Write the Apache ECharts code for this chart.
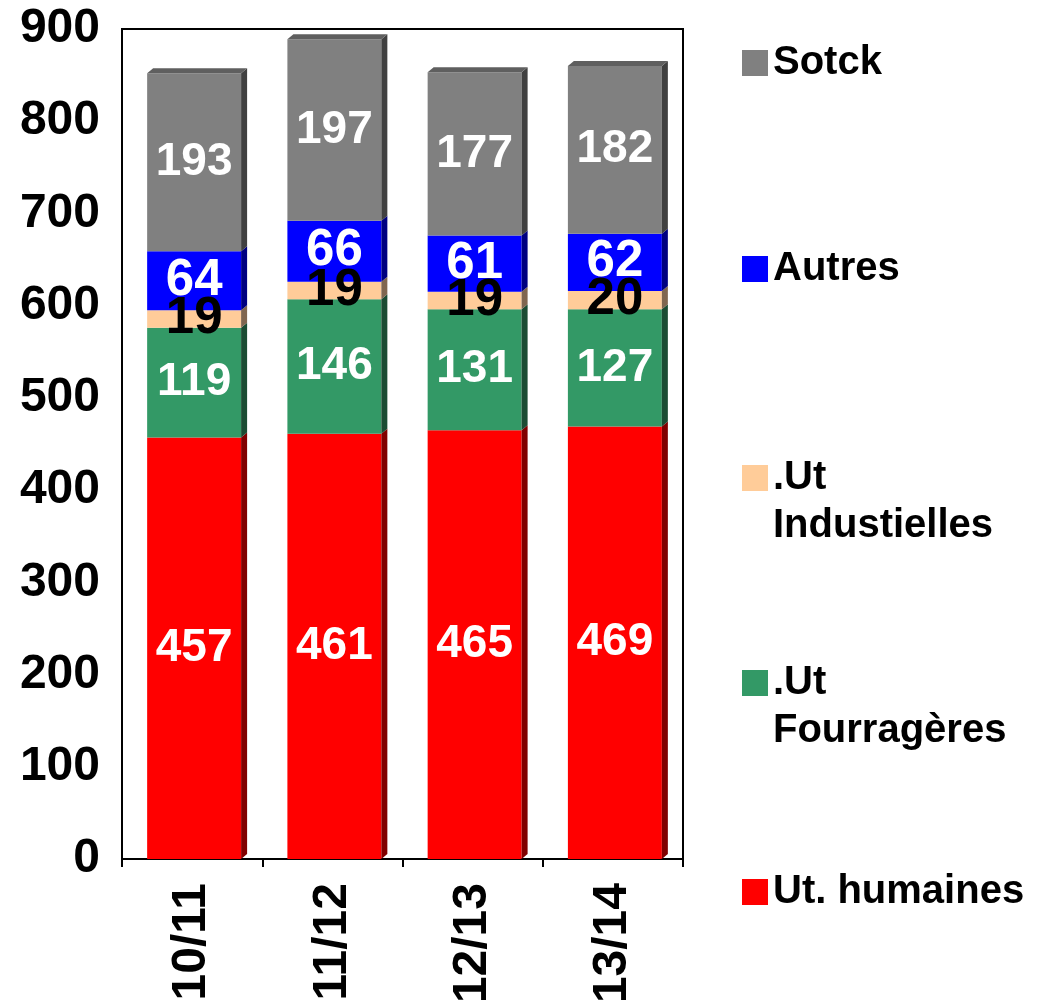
<!DOCTYPE html>
<html>
<head>
<meta charset="utf-8">
<script src="https://cdn.jsdelivr.net/npm/echarts@6/dist/echarts.min.js"></script>
<style>
  html, body { margin: 0; padding: 0; background: #fff; }
  #chart { width: 1041px; height: 1008px; }
</style>
</head>
<body>
<div id="chart"></div>
<script>
// categories (campagnes)
const categories = ["10/11", "11/12", "12/13", "13/14"];
// valeurs par couche, du bas vers le haut
const humaines = [457, 461, 465, 469];
const fourrageres = [119, 146, 131, 127];
const industielles = [19, 19, 19, 20];
const autres = [64, 66, 61, 62];
const sotck = [193, 197, 177, 182];
const yTicks = [0, 100, 200, 300, 400, 500, 600, 700, 800, 900];

const layerNames = ["Ut. humaines", ".Ut\nFourragères", ".Ut\nIndustielles", "Autres", "Sotck"];
const layerValues = [humaines, fourrageres, industielles, autres, sotck];
// face avant / face cote / face dessus
const frontColors = ["#ff0000", "#339966", "#ffcc99", "#0000ff", "#808080"];
const sideColors = ["#800000", "#1b4c33", "#806650", "#000080", "#404040"];
const topColor = "#5f5f5f";
const labelColors = ["#fff", "#fff", "#000", "#fff", "#fff"];
const labelSizes = [46, 46, 51, 51, 46];

const FONT = '"Liberation Sans", Arial, sans-serif';

// construire les donnees empilees : [categorie, base, sommet, valeur]
const cumul = categories.map(() => 0);
const layerData = layerValues.map((vals) => {
  return vals.map((v, j) => {
    const base = cumul[j];
    cumul[j] = base + v;
    return [j, base, base + v, v];
  });
});

function makeRender(k) {
  const isTop = k === layerValues.length - 1;
  return function (params, api) {
    const cat = api.value(0);
    const pb = api.coord([cat, api.value(1)]);
    const pt = api.coord([cat, api.value(2)]);
    const bw = api.size([1, 0])[0] * 0.67;
    const x0 = pb[0] - bw / 2 + 2;
    const x1 = x0 + bw;
    const dx = 6, dy = 5;
    const children = [
      {
        type: "rect",
        shape: { x: x0, y: pt[1], width: bw, height: pb[1] - pt[1] },
        style: { fill: frontColors[k] },
      },
      {
        type: "polygon",
        shape: { points: [[x1, pt[1]], [x1 + dx, pt[1] - dy], [x1 + dx, pb[1] - dy], [x1, pb[1]]] },
        style: { fill: sideColors[k] },
      },
    ];
    if (isTop) {
      children.push({
        type: "polygon",
        shape: { points: [[x0, pt[1]], [x0 + dx, pt[1] - dy], [x1 + dx, pt[1] - dy], [x1, pt[1]]] },
        style: { fill: topColor },
      });
    }
    children.push({
      type: "text",
      z2: 100,
      x: (x0 + x1) / 2,
      y: (pt[1] + pb[1]) / 2,
      style: {
        text: String(api.value(3)),
        fill: labelColors[k],
        font: "bold " + labelSizes[k] + "px " + FONT,
        align: "center",
        verticalAlign: "middle",
      },
    });
    return { type: "group", children: children };
  };
}

const series = layerNames.map((name, k) => {
  return {
    name: name,
    type: "custom",
    renderItem: makeRender(k),
    encode: { x: 0, y: [1, 2] },
    itemStyle: { color: frontColors[k] },
    data: layerData[k],
  };
});

// une legende par element, du haut vers le bas
const legendTops = { "Sotck": 34, "Autres": 240, ".Ut\nIndustielles": 401, ".Ut\nFourragères": 606, "Ut. humaines": 863 };
const legends = layerNames.slice().reverse().map((name) => {
  const twoLines = name.indexOf("\n") >= 0;
  return {
    data: [name],
    orient: "vertical",
    left: 737,
    top: legendTops[name],
    icon: "rect",
    itemWidth: 26,
    itemHeight: 26,
    itemGap: 0,
    selectedMode: false,
    // ligne vide devant : la premiere ligne reste a hauteur du carre
    formatter: function (n) {
      return twoLines ? "\n" + n : n;
    },
    textStyle: {
      color: "#000",
      fontFamily: FONT,
      fontWeight: "bold",
      fontSize: 40,
      lineHeight: 48,
    },
  };
});

const chart = echarts.init(document.getElementById("chart"));
chart.setOption({
  backgroundColor: "#fff",
  animation: false,
  grid: {
    left: 122,
    right: 358,
    top: 29,
    bottom: 149,
    show: true,
    borderColor: "#000",
    borderWidth: 2,
  },
  legend: legends,
  xAxis: {
    type: "category",
    data: categories,
    axisLine: { lineStyle: { color: "#000", width: 2 } },
    axisTick: { show: true, length: 8, lineStyle: { color: "#000", width: 2 } },
    axisLabel: {
      rotate: 90,
      margin: 24,
      color: "#000",
      fontFamily: FONT,
      fontWeight: "bold",
      fontSize: 48,
    },
  },
  yAxis: {
    type: "value",
    min: yTicks[0],
    max: yTicks[yTicks.length - 1],
    interval: 100,
    axisLine: { show: true, lineStyle: { color: "#000", width: 2 } },
    axisTick: { show: false },
    splitLine: { show: false },
    axisLabel: {
      margin: 22,
      color: "#000",
      fontFamily: FONT,
      fontWeight: "bold",
      fontSize: 48,
    },
  },
  series: series,
});
</script>
</body>
</html>
